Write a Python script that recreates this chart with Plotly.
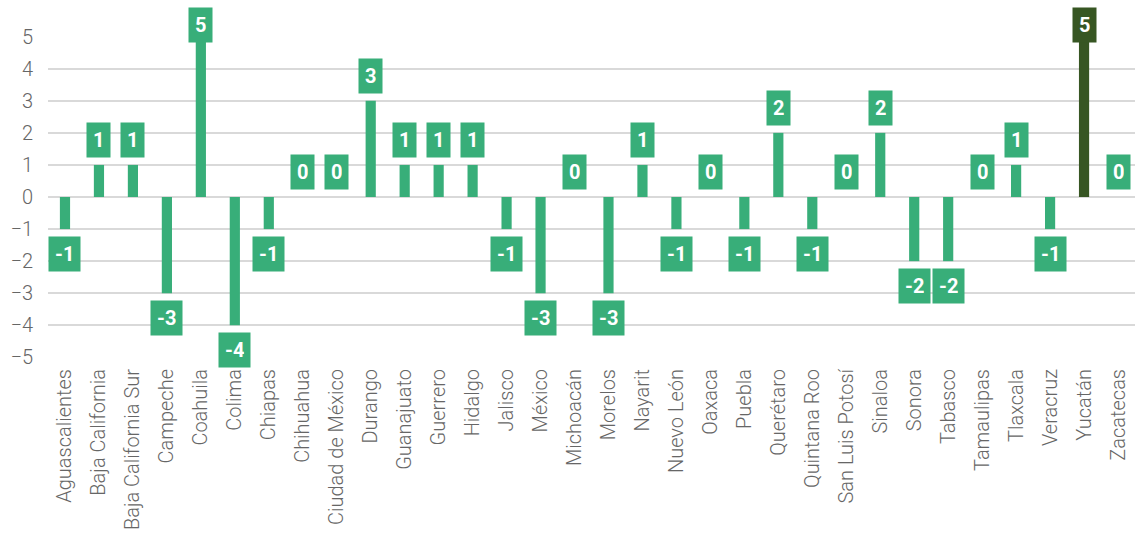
import plotly.graph_objects as go

# ── Data ──────────────────────────────────────────────────────────────────────
states = [
    "Aguascalientes", "Baja California", "Baja California Sur", "Campeche",
    "Coahuila", "Colima", "Chiapas", "Chihuahua", "Ciudad de México", "Durango",
    "Guanajuato", "Guerrero", "Hidalgo", "Jalisco", "México", "Michoacán",
    "Morelos", "Nayarit", "Nuevo León", "Oaxaca", "Puebla", "Querétaro",
    "Quintana Roo", "San Luis Potosí", "Sinaloa", "Sonora", "Tabasco",
    "Tamaulipas", "Tlaxcala", "Veracruz", "Yucatán", "Zacatecas",
]
values = [-1, 1, 1, -3, 5, -4, -1, 0, 0, 3, 1, 1, 1, -1, -3, 0,
          -3, 1, -1, 0, -1, 2, -1, 0, 2, -2, -2, 0, 1, -1, 5, 0]
highlight = "Yucatán"
y_ticks = [-5, -4, -3, -2, -1, 0, 1, 2, 3, 4, 5]

GREEN = "#38ae79"
DARK = "#375623"
GREY = "#666666"

colors = [DARK if s == highlight else GREEN for s in states]

fig = go.Figure()
fig.add_trace(go.Bar(
    x=states, y=values, marker=dict(color=colors, line=dict(width=0)),
    width=0.3, showlegend=False, hoverinfo="x+y",
))

# value labels in boxes, pushed off the bar end (clamped near the top)
for s, v, c in zip(states, values, colors):
    shift = -25 if v < 0 else 25
    if v >= 5:
        shift = 12
    fig.add_annotation(
        x=s, y=v, yref="y", text=f"<b>{v}</b>", showarrow=False,
        yshift=shift, bgcolor=c, borderpad=6, height=22,
        font=dict(family="Roboto", size=20, color="white"),
    )

tick_font = dict(family="Roboto", size=20, color=GREY, weight=300)

fig.update_layout(
    width=1135, height=542,
    margin=dict(l=48, r=0, t=36, b=184),
    plot_bgcolor="white", paper_bgcolor="white",
    font=dict(family="Roboto", color=GREY),
)
fig.update_xaxes(
    tickangle=-90, tickfont=tick_font, showgrid=False,
    showline=False, ticks="", automargin=False, ticklabelstandoff=6,
)
fig.update_yaxes(
    range=[-5.02, 5.02], tickvals=y_ticks, tickfont=tick_font,
    showgrid=True, gridcolor="#d9d9d9", gridwidth=1.5,
    zeroline=True, zerolinecolor="#d9d9d9", zerolinewidth=1.5,
    ticks="", ticklabelstandoff=14, automargin=False,
)

fig.write_html(
    "out.html",
    config={"displayModeBar": False},
    post_script="document.body.style.margin='0';",
)
